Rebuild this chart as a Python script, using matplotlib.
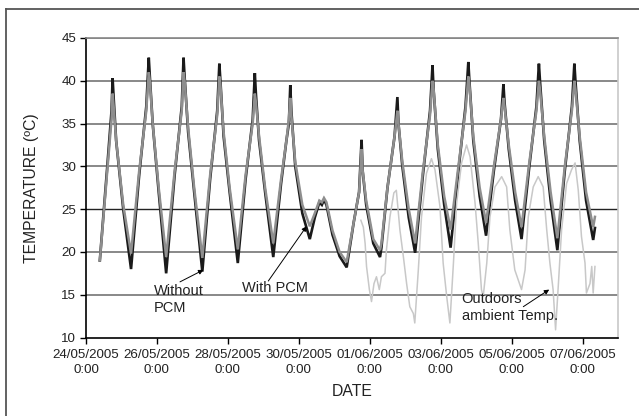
import matplotlib
matplotlib.use("Agg")
import matplotlib.pyplot as plt
from matplotlib.lines import Line2D
from datetime import datetime, timedelta

plt.rcParams['font.family'] = ['Liberation Sans', 'DejaVu Sans']

# ---- data (time in days after 24/05/2005 0:00) ----
pcm_t = [0.39, 0.60, 0.72, 0.75, 0.78, 0.85, 1.05, 1.27, 1.50, 1.70, 1.77, 1.80, 1.88, 2.05,
         2.26, 2.50, 2.70, 2.75, 2.78, 2.88, 3.05, 3.28, 3.50, 3.70, 3.76, 3.79, 3.88, 4.05,
         4.28, 4.50, 4.70, 4.76, 4.79, 4.88, 5.05, 5.28, 5.50, 5.65, 5.72, 5.76, 5.79, 5.90,
         6.10, 6.31, 6.45, 6.58, 6.65, 6.71, 6.78, 6.95, 7.15, 7.35, 7.55, 7.70, 7.77, 7.80,
         7.90, 8.10, 8.29, 8.33, 8.50, 8.70, 8.78, 8.81, 8.92, 9.10, 9.28, 9.50, 9.70, 9.77,
         9.80, 9.92, 10.10, 10.28, 10.50, 10.70, 10.78, 10.81, 10.92, 11.10, 11.28, 11.50,
         11.70, 11.77, 11.80, 11.92, 12.10, 12.28, 12.50, 12.70, 12.77, 12.80, 12.92, 13.10,
         13.29, 13.50, 13.70, 13.77, 13.80, 13.92, 14.10, 14.30, 14.35]
without_pcm = [19.0, 30.0, 36.5, 40.3, 38.0, 33.0, 25.0, 18.0, 29.0, 37.0, 42.7, 40.5, 35.0, 27.0,
               17.5, 29.0, 37.0, 42.7, 40.5, 34.0, 27.0, 17.7, 28.5, 36.5, 42.0, 40.0, 33.5, 27.0,
               18.7, 28.5, 35.5, 40.9, 38.5, 33.0, 27.0, 19.4, 28.0, 33.0, 35.0, 39.5, 36.5, 30.0,
               24.5, 21.5, 24.0, 25.8, 25.5, 26.1, 25.5, 22.0, 19.5, 18.2, 23.5, 27.0, 33.1, 29.5,
               25.5, 21.0, 19.4, 20.5, 27.5, 33.5, 38.1, 35.0, 30.0, 24.0, 19.9, 29.0, 36.5, 41.8,
               39.0, 32.0, 25.5, 20.5, 29.5, 37.0, 42.2, 40.0, 33.0, 26.5, 21.9, 29.5,
               35.5, 39.6, 37.5, 32.0, 26.0, 21.5, 30.0, 37.0, 42.0, 40.0, 33.0, 26.0,
               20.2, 29.5, 37.0, 42.0, 40.0, 33.0, 26.0, 21.4, 22.8]
with_pcm = [19.0, 29.5, 35.5, 38.5, 37.0, 33.0, 25.5, 19.8, 29.5, 36.5, 41.0, 40.0, 35.0, 27.5,
            19.4, 29.5, 36.5, 41.0, 40.0, 34.5, 27.5, 19.3, 29.0, 36.0, 40.5, 39.5, 34.0, 27.5,
            20.3, 29.0, 35.0, 38.5, 37.5, 33.5, 27.5, 21.0, 28.5, 33.0, 35.5, 38.0, 36.0, 30.5,
            25.5, 23.0, 24.5, 26.0, 25.8, 26.3, 25.8, 22.5, 20.0, 18.8, 23.5, 27.0, 32.0, 29.5,
            26.0, 21.5, 20.2, 21.0, 27.5, 33.5, 36.5, 35.0, 30.5, 25.0, 21.0, 29.5, 36.0, 40.0,
            39.0, 32.5, 26.5, 22.6, 30.0, 36.5, 40.5, 39.5, 33.5, 27.5, 23.4, 30.0,
            35.5, 38.0, 37.0, 32.5, 27.0, 22.9, 30.5, 36.5, 40.0, 39.0, 33.5, 27.0,
            21.6, 30.0, 36.5, 40.0, 39.0, 33.5, 27.0, 22.9, 24.1]

out_t = [7.75, 7.82, 7.87, 7.91, 7.99, 8.05, 8.12, 8.19, 8.27, 8.33, 8.43, 8.47, 8.57, 8.68,
         8.75, 8.85, 8.95, 9.04, 9.13, 9.23, 9.27, 9.37, 9.46, 9.60, 9.74, 9.84, 9.98, 10.07,
         10.17, 10.26, 10.36, 10.45, 10.59, 10.73, 10.83, 10.97, 11.06, 11.15, 11.20, 11.30,
         11.39, 11.53, 11.72, 11.86, 11.95, 12.09, 12.28, 12.38, 12.47, 12.61, 12.75, 12.89,
         12.99, 13.08, 13.17, 13.24, 13.32, 13.41, 13.55, 13.69, 13.79, 13.88, 13.97, 14.07,
         14.11, 14.21, 14.26, 14.30, 14.35]
outdoor = [23.7, 22.9, 21.0, 18.3, 15.6, 14.2, 16.3, 17.1, 15.6, 17.1, 17.5, 20.2, 24.1, 26.9,
           27.2, 22.6, 19.4, 16.3, 13.6, 12.8, 11.7, 17.9, 24.1, 29.2, 30.9, 29.6, 25.3, 18.7,
           14.8, 11.7, 18.7, 25.7, 30.4, 32.5, 31.1, 25.7, 21.0, 15.6, 14.8, 18.7,
           24.1, 27.6, 28.8, 27.6, 22.6, 17.9, 15.6, 17.9, 24.1, 27.6, 28.8, 27.6,
           22.6, 18.7, 15.6, 10.9, 16.3, 22.6, 28.0, 29.6, 30.4, 27.2, 21.8, 18.7,
           15.2, 16.3, 18.3, 15.2, 18.3]

tick_days = [0, 2, 4, 6, 8, 10, 12, 14]
tick_labels = ["24/05/2005\n0:00", "26/05/2005\n0:00", "28/05/2005\n0:00", "30/05/2005\n0:00",
               "01/06/2005\n0:00", "03/06/2005\n0:00", "05/06/2005\n0:00", "07/06/2005\n0:00"]
y_ticks = [10, 15, 20, 25, 30, 35, 40, 45]

# annotation texts: (label, text pos (day, temp), arrow tail (day, temp), arrow head (day, temp))
notes = [
    ('Without\nPCM', (1.92, 14.4), (2.65, 16.5), (3.31, 17.9)),
    ('With PCM', (4.40, 15.8), (5.14, 16.6), (6.22, 23.0)),
    ('Outdoors\nambient Temp.', (10.59, 13.5), (12.33, 13.6), (13.06, 15.6)),
]

base = datetime(2005, 5, 24)
def to_dt(ts):
    return [base + timedelta(days=d) for d in ts]
def dt1(d):
    return base + timedelta(days=d)

fig = plt.figure(figsize=(6.39, 4.16), dpi=100)
ax = fig.add_axes([86/639, 1-337.5/416, (618-86)/639, (337.5-38)/416])

# gridlines
for y in y_ticks[1:]:
    if y == 25:
        ax.axhline(y, color='#222222', lw=1.0, zorder=1)
    else:
        ax.axhline(y, color='#888888', lw=1.4, zorder=1)

ax.plot(to_dt(pcm_t), without_pcm, color='#1a1a1a', lw=1.9, zorder=3, solid_joinstyle='miter')
ax.plot(to_dt(pcm_t), with_pcm, color='#8e8e8e', lw=1.8, zorder=4, solid_joinstyle='miter')
ax.plot(to_dt(out_t), outdoor, color='#c8c8c8', lw=1.1, zorder=5)

ax.set_xlim(base, base + timedelta(days=15))
ax.set_ylim(10, 45)
ax.set_yticks(y_ticks)
ax.set_xticks(to_dt(tick_days))
ax.set_xticklabels(tick_labels)
ax.tick_params(axis='both', labelsize=9.6, length=4, width=1, color='black', direction='out',
               labelcolor='#222222')
ax.tick_params(axis='y', pad=3)
ax.tick_params(axis='x', pad=4)
for lab in ax.get_xticklabels():
    lab.set_linespacing(1.35)

ax.spines['left'].set_color('black')
ax.spines['bottom'].set_color('black')
ax.spines['top'].set_color('#888888')
ax.spines['right'].set_color('#c8c8c8')
for s in ax.spines.values():
    s.set_linewidth(1.2)

ax.set_ylabel('TEMPERATURE (ºC)', fontsize=11.3, color='#222222', labelpad=16)
ax.set_xlabel('DATE', fontsize=11.3, color='#222222', labelpad=6)

arrow = dict(arrowstyle='-|>', color='black', lw=0.7, mutation_scale=7, shrinkA=0, shrinkB=0)
for label, tpos, tail, head in notes:
    ax.text(dt1(tpos[0]), tpos[1], label, fontsize=10.5, color='#222222',
            ha='left', va='center', linespacing=1.25, zorder=6)
    ax.annotate('', xy=(dt1(head[0]), head[1]), xytext=(dt1(tail[0]), tail[1]),
                arrowprops=arrow, zorder=6)

# outer frame (cropped at right/bottom)
fig.add_artist(Line2D([6/639, 1.0], [1-9/416, 1-9/416], transform=fig.transFigure,
                      color='#555555', lw=1.3))
fig.add_artist(Line2D([6/639, 6/639], [0.0, 1-9/416], transform=fig.transFigure,
                      color='#555555', lw=1.3))

fig.savefig('out.png', dpi=100)
